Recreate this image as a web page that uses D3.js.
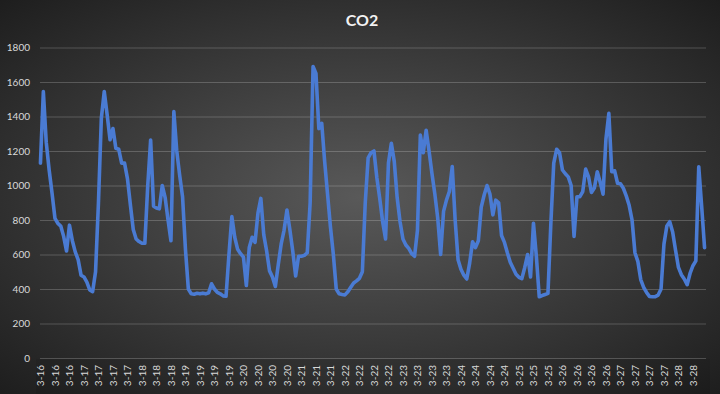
<!DOCTYPE html>
<html><head><meta charset="utf-8">
<script src="https://cdn.jsdelivr.net/npm/d3@7"></script>
<style>html,body{margin:0;padding:0;background:#222;} svg{display:block}</style>
</head><body><svg id="c" width="720" height="394"></svg>
<script>
const chartTitle = "CO2";
const tickLabels = ["3-16","3-16","3-16","3-17","3-17","3-17","3-17","3-18","3-18","3-18",
  "3-19","3-19","3-19","3-19","3-20","3-20","3-20","3-20","3-21","3-21","3-21",
  "3-22","3-22","3-22","3-22","3-23","3-23","3-23","3-23","3-24","3-24","3-24","3-24",
  "3-25","3-25","3-25","3-26","3-26","3-26","3-26","3-27","3-27","3-27","3-27","3-28","3-28"];
const labelEvery = 5;
const co2 = [
  1130,1545,1250,1090,955,810,780,765,705,620,
  770,680,615,570,480,470,440,395,385,500,
  900,1390,1545,1410,1265,1330,1216,1210,1130,1130,
  1040,890,745,690,675,665,665,1000,1264,880,
  870,865,1000,930,800,680,1428,1200,1060,935,
  630,400,372,370,375,372,376,372,378,430,
  400,380,372,360,358,600,820,700,630,605,
  585,420,640,700,670,840,925,715,620,505,
  470,415,540,660,740,858,745,620,475,590,
  590,595,610,900,1690,1650,1330,1360,1140,950,
  760,600,400,372,368,366,384,410,435,447,
  462,500,900,1160,1190,1200,1045,925,790,690,
  1130,1245,1140,930,790,690,655,635,605,590,
  740,1293,1190,1320,1200,1070,950,810,600,850,
  915,965,1110,800,570,515,480,458,550,674,
  640,680,875,945,1000,950,830,915,900,710,
  670,610,555,520,485,468,460,525,600,470,
  781,590,355,362,368,375,780,1130,1210,1190,
  1090,1068,1050,1000,705,935,935,965,1095,1050,
  960,985,1080,1020,950,1270,1418,1080,1085,1013,
  1010,984,940,885,800,610,560,455,410,380,
  357,355,356,365,400,660,765,790,730,625,
  525,483,458,425,490,535,563,1109,880,640
];
const yTicks = [0,200,400,600,800,1000,1200,1400,1600,1800];

const W = 720, H = 394;
const svg = d3.select("#c");
const defs = svg.append("defs");
const rg = defs.append("radialGradient").attr("id","bg")
  .attr("cx","50%").attr("cy","50%").attr("r","75%");
rg.append("stop").attr("offset","0%").attr("stop-color","#595959");
rg.append("stop").attr("offset","100%").attr("stop-color","#1a1a1a");
svg.append("rect").attr("width",W).attr("height",H).attr("fill","url(#bg)");

const plotL = 40, plotR = 706, plotT = 47.5, plotB = 358;
svg.append("rect").attr("x",plotL-4).attr("y",plotB+1).attr("width",plotR-plotL+8).attr("height",H-plotB-1)
  .attr("fill","#000").attr("opacity",0.08);

const x = d3.scaleLinear().domain([-0.5, co2.length-0.5]).range([39, 706]);
const y = d3.scaleLinear().domain([0,1800]).range([plotB, plotT]);

const font = "Lato, 'Open Sans', sans-serif";

const ya = svg.append("g").attr("transform",`translate(${plotL},0)`)
  .call(d3.axisLeft(y).tickValues(yTicks).tickSize(-(plotR-plotL)).tickPadding(10).tickFormat(d3.format("d")));
ya.select(".domain").remove();
ya.selectAll(".tick line").attr("stroke","#ffffff").attr("stroke-opacity",0.2);
ya.selectAll(".tick text").attr("fill","#d9d9d9").style("font-family",font).style("font-size","10px");

const xa = svg.append("g").attr("transform",`translate(0,${plotB})`)
  .call(d3.axisBottom(x).tickValues(tickLabels.map((d,i)=>i*labelEvery)).tickSize(0)
    .tickFormat(d => tickLabels[d/labelEvery]));
xa.select(".domain").remove();
xa.selectAll(".tick text").attr("fill","#d9d9d9").style("font-family",font).style("font-size","10px")
  .attr("transform","rotate(-90)").attr("x",-7).attr("y",0).attr("dy","0.35em").style("text-anchor","end");

const line = d3.line().x((d,i)=>x(i)).y(d=>y(d));
svg.append("path").datum(co2).attr("d",line).attr("fill","none")
  .attr("stroke","#4a7bd3").attr("stroke-width",3.6).attr("stroke-linejoin","round").attr("stroke-linecap","round");

svg.append("text").attr("x",362).attr("y",26).attr("text-anchor","middle")
  .attr("fill","#f2f2f2").style("font-family",font).style("font-weight","bold").style("font-size","16px")
  .text(chartTitle);
</script>
</body></html>
